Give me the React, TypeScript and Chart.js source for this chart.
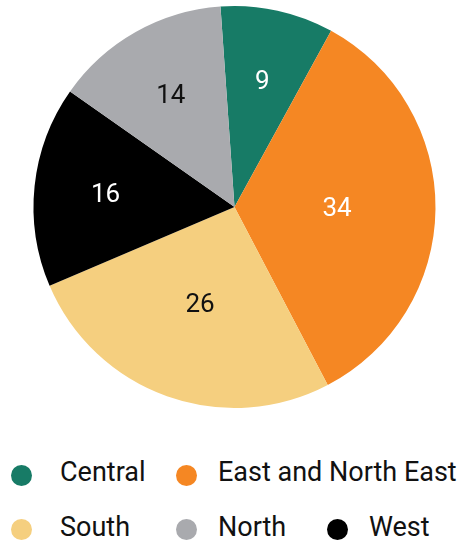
import React, { useEffect, useRef } from "react";
import { Chart, registerables } from "chart.js";

Chart.register(...registerables);

const categories = ["Central", "East and North East", "South", "West", "North"];
const values = [9, 34, 26, 16, 14];
const colors = ["#177b66", "#f58723", "#f5cf7f", "#000000", "#a9aaae"];
const labelColors = ["#ffffff", "#ffffff", "#111111", "#ffffff", "#111111"];

// legend display order
const legendOrder = ["Central", "East and North East", "South", "North", "West"];
// legend layout (style only)
const legendLayout = [
  { circleX: 11, textX: 60, baseline: 481.5, cy: 475 },
  { circleX: 176, textX: 218, baseline: 481.5, cy: 475 },
  { circleX: 11, textX: 60, baseline: 537, cy: 529 },
  { circleX: 176, textX: 218, baseline: 537, cy: 529 },
  { circleX: 327, textX: 369, baseline: 537, cy: 529 },
];

const FONT = "Roboto, 'Noto Sans', sans-serif";

const sliceLabels = {
  id: "sliceLabels",
  afterDatasetsDraw(chart: any) {
    const ctx = chart.ctx;
    const meta = chart.getDatasetMeta(0);
    ctx.save();
    ctx.font = `26px ${FONT}`;
    ctx.textAlign = "center";
    ctx.textBaseline = "middle";
    meta.data.forEach((arc: any, i: number) => {
      const p = arc.getProps(["x", "y", "startAngle", "endAngle", "outerRadius"], true);
      const mid = (p.startAngle + p.endAngle) / 2;
      const sweep = p.endAngle - p.startAngle;
      const f = sweep < (70 * Math.PI) / 180 ? 0.645 : 0.51;
      const r = p.outerRadius * f;
      ctx.fillStyle = labelColors[i];
      ctx.fillText(String(values[i]), p.x + Math.cos(mid) * r, p.y + Math.sin(mid) * r + 2);
    });
    ctx.restore();
  },
};

export default function App() {
  const ref = useRef<HTMLCanvasElement | null>(null);
  useEffect(() => {
    if (!ref.current) return;
    const chart = new Chart(ref.current, {
      type: "pie",
      data: {
        labels: categories,
        datasets: [
          {
            data: values,
            backgroundColor: colors,
            borderWidth: 0,
          },
        ],
      },
      options: {
        responsive: false,
        animation: false,
        devicePixelRatio: 1,
        rotation: -4,
        layout: { padding: { left: 33.5, right: 23.5, top: 6, bottom: 12 } },
        plugins: {
          legend: { display: false },
          tooltip: { enabled: false },
        },
      },
      plugins: [sliceLabels],
    });
    return () => chart.destroy();
  }, []);

  return (
    <div style={{ position: "fixed", left: 0, top: 0, width: 459, height: 544, background: "#fff", fontFamily: FONT }}>
      <canvas ref={ref} width={459} height={420} style={{ display: "block", width: 459, height: 420 }} />
      {legendOrder.map((name, k) => {
        const i = categories.indexOf(name);
        const L = legendLayout[k];
        return (
          <React.Fragment key={name}>
            <div
              style={{
                position: "absolute",
                left: L.circleX,
                top: L.cy - 10.5,
                width: 21,
                height: 21,
                borderRadius: "50%",
                background: colors[i],
              }}
            />
            <div
              style={{
                position: "absolute",
                left: L.textX,
                top: L.baseline - 22.7,
                fontSize: 27,
                lineHeight: "27px",
                color: "#111111",
                whiteSpace: "nowrap",
              }}
            >
              {name}
            </div>
          </React.Fragment>
        );
      })}
    </div>
  );
}
